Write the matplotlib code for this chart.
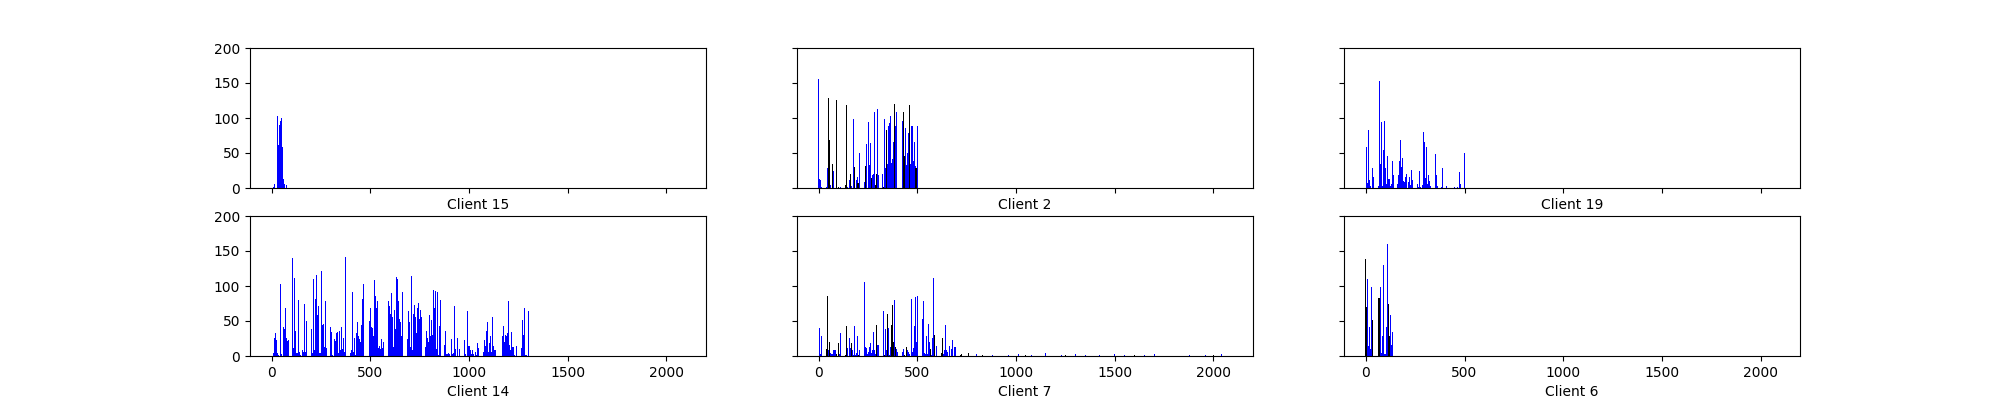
import matplotlib
matplotlib.use("Agg")
import matplotlib.pyplot as plt

# per-client bar data (position, count), split by colour
c15_blue_x = [7, 12, 27, 32, 37, 42, 47, 52, 57, 62, 67, 77]
c15_blue_y = [2, 6, 103, 62, 90, 116, 96, 100, 59, 13, 6, 5]
c15_black_x = []
c15_black_y = []

c2_blue_x = [0, 5, 10, 15, 40, 45, 60, 75, 110, 145, 155, 165, 175, 190, 195, 205,
             230, 240, 250, 255, 260, 270, 275, 280, 290, 300, 305, 325, 335, 340,
             350, 355, 360, 365, 370, 375, 380, 390, 395, 425, 440, 445, 450, 455,
             465, 470, 475, 480, 485, 490, 500]
c2_blue_y = [156, 13, 12, 1, 1, 28, 5, 25, 2, 2, 12, 3, 99, 12, 16, 50,
             9, 63, 95, 33, 65, 19, 20, 108, 62, 113, 19, 20, 99, 29,
             35, 88, 93, 103, 36, 42, 66, 89, 109, 96, 86, 33, 50, 78,
             35, 89, 89, 38, 66, 32, 89]
c2_black_x = [50, 55, 70, 90, 100, 135, 140, 160, 180, 196, 200, 235, 265, 285, 295,
              330, 345, 385, 430, 435, 460, 492, 495]
c2_black_y = [128, 69, 35, 126, 2, 5, 118, 20, 30, 7, 7, 32, 15, 5, 20,
              2, 83, 120, 108, 46, 118, 29, 29]

c19_blue_x = [5, 10, 15, 20, 25, 35, 40, 65, 70, 75, 80, 85, 90, 95, 100, 105, 110,
              115, 120, 125, 130, 135, 140, 160, 165, 170, 175, 180, 185, 190, 195,
              200, 205, 215, 220, 225, 230, 235, 260, 265, 270, 275, 285, 290, 295,
              300, 305, 310, 315, 320, 325, 330, 355, 360, 365, 385, 390, 410, 450,
              465, 475, 480, 500]
c19_blue_y = [59, 7, 83, 12, 3, 28, 16, 3, 153, 35, 95, 3, 55, 96, 28, 6, 46,
              13, 13, 3, 6, 39, 19, 6, 19, 39, 68, 30, 43, 10, 9,
              16, 20, 8, 16, 5, 26, 12, 6, 2, 25, 2, 5, 80, 66,
              15, 58, 9, 6, 19, 10, 3, 49, 18, 3, 2, 28, 3, 2,
              2, 23, 6, 50]
c19_black_x = []
c19_black_y = []

c14_blue_x = [8, 13, 18, 23, 28, 33, 45, 50, 58, 63, 68, 73, 78, 83, 106, 111, 116,
              121, 126, 131, 136, 141, 146, 156, 161, 167, 172, 177, 202, 207, 212,
              217, 222, 227, 232, 237, 242, 247, 253, 258, 263, 268, 273, 278, 298,
              303, 308, 318, 323, 328, 333, 338, 343, 348, 353, 358, 364, 369, 374,
              399, 404, 409, 414, 419, 424, 429, 434, 439, 444, 449, 455, 460, 465,
              494, 499, 505, 510, 515, 520, 525, 530, 535, 540, 545, 550, 555, 560,
              566, 591, 596, 601, 606, 611, 616, 621, 626, 631, 636, 641, 647, 652,
              657, 662, 687, 692, 697, 702, 707, 712, 717, 722, 727, 732, 737, 743,
              748, 753, 758, 781, 786, 791, 796, 801, 806, 811, 816, 822, 827, 832,
              837, 842, 847, 852, 857, 877, 882, 887, 892, 898, 903, 913, 918, 923,
              928, 933, 943, 949, 954, 979, 984, 994, 999, 1004, 1009, 1014, 1019,
              1024, 1035, 1040, 1045, 1050, 1075, 1080, 1085, 1090, 1095, 1100, 1106,
              1111, 1116, 1121, 1126, 1131, 1136, 1170, 1175, 1180, 1185, 1190, 1195,
              1200, 1205, 1210, 1215, 1220, 1226, 1231, 1241, 1266, 1271, 1276, 1281,
              1286, 1291, 1302]
c14_blue_y = [5, 26, 33, 23, 5, 2, 103, 3, 42, 38, 69, 26, 22, 23, 140, 12, 112,
              36, 5, 5, 80, 6, 2, 8, 6, 75, 6, 50, 39, 5, 110,
              8, 82, 116, 59, 72, 5, 5, 122, 45, 46, 13, 78, 12, 42,
              35, 2, 25, 22, 33, 35, 5, 36, 8, 42, 10, 26, 6, 142,
              5, 8, 92, 6, 26, 2, 33, 49, 28, 25, 20, 45, 82, 103,
              50, 69, 42, 40, 29, 108, 86, 68, 78, 12, 15, 10, 25, 12,
              20, 79, 72, 60, 90, 56, 13, 66, 38, 113, 110, 79, 53, 48,
              28, 92, 25, 65, 48, 13, 115, 9, 60, 73, 56, 33, 68, 76,
              53, 66, 56, 13, 36, 26, 20, 58, 29, 52, 30, 95, 69, 93,
              10, 92, 2, 43, 80, 16, 36, 3, 3, 5, 3, 25, 3, 5,
              72, 10, 26, 8, 10, 23, 3, 65, 15, 15, 8, 3, 9,
              3, 6, 2, 18, 12, 6, 23, 15, 36, 49, 6, 19,
              29, 6, 56, 15, 9, 8, 29, 43, 20, 30, 28, 33,
              79, 16, 8, 35, 13, 13, 2, 15, 12, 52, 30, 68,
              2, 2, 65]
c14_black_x = []
c14_black_y = []

c7_blue_x = [3, 8, 14, 49, 61, 66, 71, 76, 81, 86, 106, 111, 146, 156, 161, 172, 177,
             182, 187, 192, 197, 207, 232, 237, 242, 247, 252, 257, 262, 267, 272,
             277, 282, 288, 298, 303, 328, 338, 343, 353, 358, 363, 384, 394, 399,
             424, 429, 449, 455, 460, 470, 475, 480, 485, 490, 495, 500, 518, 524,
             529, 534, 539, 544, 549, 554, 559, 569, 574, 580, 595, 630, 635, 640,
             645, 650, 660, 665, 671, 676, 686, 691, 800, 880, 960, 1010, 1080,
             1150, 1230, 1300, 1350, 1420, 1500, 1550, 1650, 1700, 1800, 1880,
             1960, 2040]
c7_blue_y = [40, 3, 28, 8, 5, 3, 3, 8, 8, 8, 3, 33, 12, 26, 12, 9, 2,
             43, 2, 5, 29, 8, 106, 13, 12, 3, 6, 13, 18, 5, 8,
             35, 8, 3, 16, 16, 65, 38, 8, 40, 2, 13, 80, 10, 6,
             6, 10, 9, 6, 3, 82, 6, 12, 43, 85, 20, 86, 52, 53,
             79, 5, 3, 29, 3, 46, 20, 2, 26, 112, 15, 3, 8, 45,
             8, 6, 15, 28, 10, 23, 13, 13, 3, 2, 2, 3, 2,
             4, 2, 3, 2, 2, 3, 2, 2, 3, 2, 2,
             2, 3]
c7_black_x = [39, 44, 56, 91, 101, 136, 141, 166, 202, 293, 333, 348, 368, 374, 379,
              389, 434, 444, 564, 585, 620, 625, 716, 721, 761, 830, 1050, 1250,
              1600, 2000]
c7_black_y = [10, 86, 20, 3, 19, 2, 43, 19, 2, 45, 2, 60, 45, 73, 20,
              13, 2, 13, 10, 30, 5, 26, 2, 3, 5, 2, 2, 2,
              2, 2]

c6_blue_x = [10, 15, 20, 25, 30, 76, 81, 86, 91, 96, 101, 106, 111, 126, 131, 135]
c6_blue_y = [110, 15, 42, 10, 98, 98, 5, 29, 130, 3, 3, 42, 160, 59, 16, 35]
c6_black_x = [0, 5, 35, 66, 71, 116, 121]
c6_black_y = [139, 70, 52, 83, 83, 75, 28]

clients = [
    ("Client 15", c15_blue_x, c15_blue_y, c15_black_x, c15_black_y),
    ("Client 2", c2_blue_x, c2_blue_y, c2_black_x, c2_black_y),
    ("Client 19", c19_blue_x, c19_blue_y, c19_black_x, c19_black_y),
    ("Client 14", c14_blue_x, c14_blue_y, c14_black_x, c14_black_y),
    ("Client 7", c7_blue_x, c7_blue_y, c7_black_x, c7_black_y),
    ("Client 6", c6_blue_x, c6_blue_y, c6_black_x, c6_black_y),
]

fig, axes = plt.subplots(2, 3, figsize=(20, 4), dpi=100, sharex=True, sharey=True)

for ax, (name, bx, by, kx, ky) in zip(axes.flat, clients):
    # bars are ~1 px wide at this scale
    ax.bar(bx, by, width=5, color="blue", linewidth=0)
    if kx:
        ax.bar(kx, ky, width=5, color="black", linewidth=0)
    ax.set_xlabel(name)

axes[0, 0].set_ylim(0, 200)
axes[0, 0].set_xlim(-110, 2200)
axes[0, 0].set_yticks([0, 50, 100, 150, 200])
axes[0, 0].set_xticks([0, 500, 1000, 1500, 2000])

fig.savefig("out.png", dpi=100)
